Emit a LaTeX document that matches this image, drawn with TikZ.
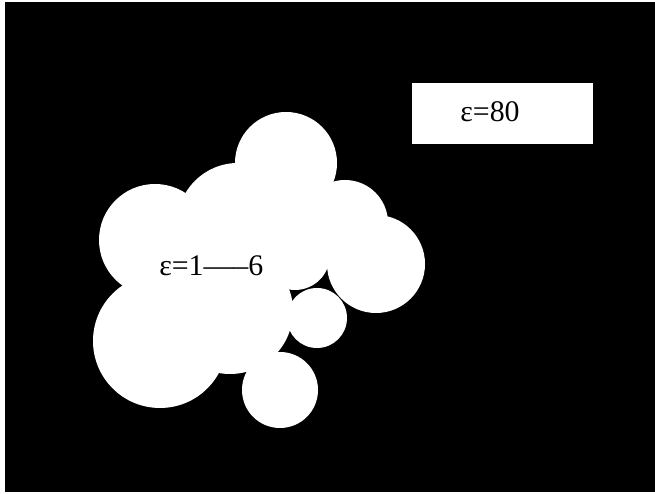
\documentclass[tikz,border=0pt]{standalone}
\usepackage{fontspec}
\setmainfont{Liberation Serif}
\usepackage{tikz}

\begin{document}
\begin{tikzpicture}[every node/.style={font=\fontsize{17}{20}\selectfont}, atom/.style={fill=white}]
	\useasboundingbox (0,0) rectangle (13.1,9.88);
	\fill[black] (0.1,0.04) rectangle (13.1,9.84);
	% spheres of the solute
	\fill[atom] (5.72,6.62) circle (1.02);
	\fill[atom] (3.10,5.08) circle (1.12);
	\fill[atom] (4.76,5.40) circle (1.22);
	\fill[atom] (5.80,5.58) circle (0.70);
	\fill[atom] (6.90,5.42) circle (0.86);
	\fill[atom] (7.52,4.60) circle (0.98);
	\fill[atom] (5.90,4.78) circle (0.70);
	\fill[atom] (6.34,3.52) circle (0.60);
	\fill[atom] (5.60,2.08) circle (0.76);
	\fill[atom] (4.60,3.66) circle (1.26);
	\fill[atom] (3.20,3.06) circle (1.34);
	% labels
	\node[fill=white, minimum width=3.62cm, minimum height=1.22cm, inner sep=0pt] (water) at (10.05,7.61) {};
	\node[anchor=base] (solvent) at (9.80,7.446) {ε=80};
	\node[anchor=base] (solute) at (4.226,4.366) {ε=1—–6};
\end{tikzpicture}
\end{document}
